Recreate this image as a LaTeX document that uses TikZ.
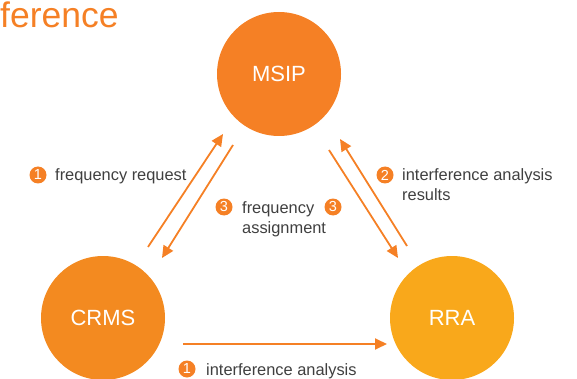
\documentclass[tikz,border=0pt]{standalone}
\usepackage{fontspec}
\setmainfont{Liberation Sans}
\usetikzlibrary{arrows.meta}
\definecolor{orA}{HTML}{F58025}
\definecolor{orB}{HTML}{F38A20}
\definecolor{orC}{HTML}{F9A81B}
\definecolor{txt}{HTML}{3F3F3F}
\tikzset{
  agency/.style={circle,minimum size=124pt,inner sep=0pt,text=white,font=\fontsize{22}{26}\selectfont},
  flow/.style={draw=orA,line width=1.8pt,-{Triangle[length=12pt,width=11pt]}},
  numdot/.style={circle,fill=orA,minimum size=17pt,inner sep=0pt,text=white,font=\fontsize{14.5}{16}\selectfont},
  lbl/.style={text=txt,font=\fontsize{16.4}{20}\selectfont,inner sep=0pt,anchor=base west},
}
\begin{document}
\begin{tikzpicture}[x=1pt,y=-1pt]
\useasboundingbox (0,0) rectangle (577,379);
\node[text=orA,font=\fontsize{35.5}{40}\selectfont,inner sep=0pt,anchor=base west] (title) at (0,27.5) {ference};
\node[agency,fill=orA] (msip) at (279,74) {MSIP};
\node[agency,fill=orB] (crms) at (103,318) {CRMS};
\node[agency,fill=orC] (rra) at (452,318) {RRA};
% arrow endpoints
\coordinate (a1s) at (148,247);
\coordinate (a1e) at (223,134);
\coordinate (a2s) at (233,145);
\coordinate (a2e) at (162,258);
\coordinate (b1s) at (407,246);
\coordinate (b1e) at (340,139);
\coordinate (b2s) at (329,150);
\coordinate (b2e) at (398,258);
\coordinate (c1s) at (183,344);
\coordinate (c1e) at (387,344);
\draw[flow] (a1s) -- (a1e);
\draw[flow] (a2s) -- (a2e);
\draw[flow] (b1s) -- (b1e);
\draw[flow] (b2s) -- (b2e);
\draw[flow] (c1s) -- (c1e);
% labels
\node[numdot] (n1) at (38,175) {1};
\node[lbl] (l1) at (55,180.5) {frequency request};
\node[numdot] (n3a) at (224,207) {3};
\node[lbl] (l3a) at (242,213) {frequency};
\node[lbl] (l3b) at (242,233) {assignment};
\node[numdot] (n3b) at (333,207) {3};
\node[numdot] (n2) at (385,175) {2};
\node[lbl] (l2a) at (402,180.5) {interference analysis};
\node[lbl] (l2b) at (402,200.5) {results};
\node[numdot] (n1b) at (187,369) {1};
\node[lbl] (l4) at (206,375) {interference analysis};
\end{tikzpicture}
\end{document}
